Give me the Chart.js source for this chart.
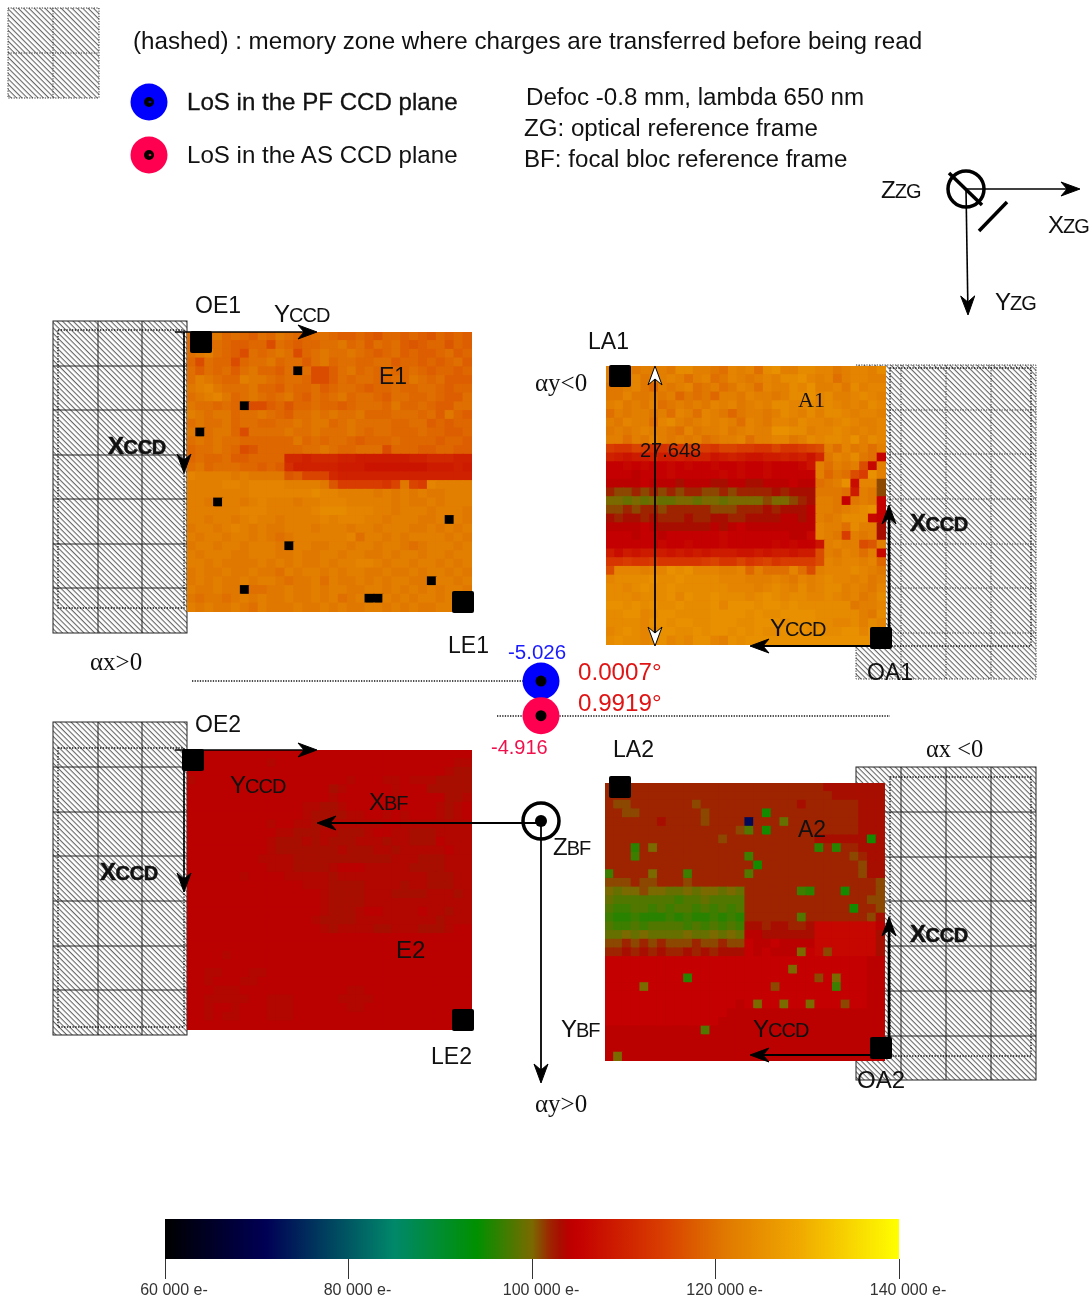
<!DOCTYPE html>
<html>
<head>
<meta charset="utf-8">
<title>CCD maps</title>
<script src="https://cdn.jsdelivr.net/npm/chart.js@4/dist/chart.umd.js"></script>
<style>
  html, body { margin: 0; padding: 0; background: #fff; overflow: hidden; }
  #page { position: relative; width: 1089px; height: 1300px; }
  #page svg, #page canvas { position: absolute; }
  .heat { filter: blur(0.45px); }
  text { font-family: "Liberation Sans", Arial, sans-serif; fill: #111; }
</style>
</head>
<body>
<div id="page">
  <svg id="back" width="1089" height="1300" style="left:0;top:0"></svg>
  <canvas id="e1" class="heat" width="285" height="280" style="left:187px;top:332px"></canvas>
  <canvas id="a1" class="heat" width="280" height="279" style="left:606px;top:366px"></canvas>
  <canvas id="e2" class="heat" width="285" height="280" style="left:187px;top:750px"></canvas>
  <canvas id="a2" class="heat" width="280" height="278" style="left:605px;top:783px"></canvas>
  <canvas id="bar" width="900" height="90" style="left:100px;top:1210px"></canvas>
  <svg id="front" width="1089" height="1300" style="left:0;top:0"></svg>
  <canvas id="los" width="82" height="105" style="left:500px;top:646px"></canvas>
</div>

<script>
// colour scale (electrons -> rgb) at the bottom
const stopValues = [60000, 71000, 85000, 94000, 100000, 102000, 103000, 104000, 105000, 114000, 121000, 129000, 140000];
const stopColors = [[0,0,0],[0,0,85],[0,136,106],[0,144,0],[122,106,0],[158,36,0],[168,14,0],[187,0,0],[196,0,0],[216,60,0],[224,120,0],[240,168,0],[255,255,0]];
const barTicks = [60000, 80000, 100000, 120000, 140000];

// line of sight points
const losNames = ['PF', 'AS'];
const losAngle = [0.0007, 0.9919];
const losSide = [0, 0];

// maps: 32 x 32 cells, one char per cell = thousands of e- in base 36 on top of 90 000
// '.' dead cell, '*' very low cell, 'D' 103 500
const special = { '.': 0, '*': 72000, 'D': 103500 };

const e1Rows = [
  "utuvtuts utvuttuu tsstsrtt stsrtsts",
  "tstutsst tqutsttu uvtusutu srsttrts",
  "uvwutsqu tuvuqtuv uuvutstu stsstust",
  "tquttqtu uvtuusuv tuuttuus ttststus",
  "usutusuv ttsu.uqq suvtutut tutsttst",
  "uwvuttwv vutuutqq sutuuttu tvutusss",
  "vwxvuuuv ttsuttus tuutsttu ttuutstt",
  "uvwxvtuv utuvtsut uvtuutsu uttutssu",
  "vuutut.q qstrttut tstuuutv ttutssuu",
  "wvuvvtuu vutsuuvu vuuvtttu uutusvts",
  "uvuuvtuu ttuuvuvv tuvuuuut tuuststt",
  "v.uvvtqu uuuvuuvu uuvutuut ttuttsst",
  "uvuvuutt ttttvtut uutstttu ttttstts",
  "tuuvutqr tttttuuv uttuuuqt ttssttss",
  "tuttusst tttllkll lkkjjjjj jkklllkk",
  "uvtuuutt stsmkkkk kjjjiiii iiijjjkj",
  "xwwwwvwv vvvrsppp lkkkkkkk kkkkkkkk",
  "wwwwxxwx xxxwwwwv rooooonp vpoxwwww",
  "wwwwwwwx xxxxxxyx xwwwwvwv wvwvvwww",
  "wwv.wwvw xwwwvwwx xxwwwwwv wvvwvwww",
  "wwwwwwxx xwwwwwxy yyxxxwwv wwwvwwwv",
  "wwvwwvwx wwvwwwwx wxxxwwvw wwvvw.wv",
  "vwwvwxwv wvvwwwvw wwvwwvww wvvwvwvw",
  "wvwwvwwv wvuvwwww wwxuwwvw vwwwwvwv",
  "vwwvwwvw wwv.wwvv wwvwwvww vuvwwwvw",
  "wvwwwvvw wwvvwvvw wvwwvvwv wwvwwvww",
  "wwvwvvvv wvwvwvvw vwwxxwvw wvwwvwvw",
  "vwvvwvvw vvuwvwwv wvwwvvwv vwvwwvwv",
  "vwvwvvwv wwvuvvwu wvvwvwvw wvv.wwvw",
  "wvvwvv.u uvvwvvwv wwvvwwvw vwvwvwwv",
  "vuvvuvwv wvvwvvwv wuvw..wv wvwwvwwv",
  "wvwvvwvu wvvvwvvw vwvvwwvw vwvvwwww"
];

const a1Rows = [
  "wwxvwwwv yywwvuxw xuyzwwyy xxvwxxwy",
  "wvwxvwwx wuwxuvxw vwxwyyzx wxuwxxww",
  "vvwxvtwv wxuvwuvx wuxwwyxz wwxvywxx",
  "vvxvvwvw tvuvtwwv xwwvwyyz xywwxyxw",
  "wxvwvxuv wvwvxwxv wxwyyxxy xyxwxwyx",
  "uwvwwvwu xwuxwvtv wwvwyxwy wyyxwxxw",
  "wvxwwuxy wvwxwxwu xwvxxwyx xwxyxwwx",
  "vwvwxwwv uxvwwxvw xwwzzyyw xxyxwxwx",
  "wwuwvxwv wvwuvwwx uwwxxvwy xyyxzwyx",
  "onnpommn nooonppo onnpnnop qwuxvwuw",
  "kjijjkjj kjkkijkj iijjkjki lvxwyvuf",
  "ffgfgffg fgffgffg ffgfffgi wuwvwqgw",
  "fffefffg fffffgfg ffgfffff wtvuqozw",
  "eeeefeee deeeddee ddeeefee uvwzhxxb",
  "cbbcbcbc bccbbcbc cccdcddd vvvujwvb",
  "aa9a9a99 aa9aa9aa aabaabcd wwvfvwvf",
  "bbcbccbc ccccbbbc ccdcddde wwvwxyzf",
  "dcddcdcc cdccddcc ddddeede wvwyyygf",
  "eeeefedd ddddedef eeeeeeee xwwuywwd",
  "fffeffef fffffgff fffffeeg xwvowvwd",
  "ffffffgf fgfffgff fffgfgff iwxwwqrw",
  "jhjijjji jijijjji ijijjijj qwvxwuwg",
  "nnonnonn nnnopnnp nopnoooo qxwxxwxt",
  "qxxxwxxz yzxxxwwx twuuuxuq wxxxyxwv",
  "xyyyyzyy zyyyyxxx wwwxwvxw xyxxwxvw",
  "yyxyzyyz yyyyyyxx xwxyxwyw xyywxwvx",
  "yyyxyyyz xzyyzyyy xyzyxyyx xyxwxvwy",
  "zzyzyzyy zyyyzxzz zyzzyzyy yyyyvwwx",
  "yyzzxyzz yyyyzzzz yzyyzzzz yyyyywvy",
  "yyyyxzzy zzyyzzzy yzzzyzzz yyxxywyx",
  "xyzyxyzz yyzyzzyz yzyyzzzy zyyzzxzz",
  "yzyyxyzx yxzzxwzy zzzzzzzz zzzzzzzz"
];

const e2Rows = [
  "eeeeeeee eeeeeeee eeeeeeee eeeeeeee",
  "eeeeeeee eDeeeeee eeeeeeee eeeeeeDD",
  "eeeeeeee eeeeeeee eeeeeeee eeeeeDdd",
  "Deeeeeee eeeeeeee eeDeeeDD eDDDdddd",
  "eeeeeeee eeeeeeee dDeeeeeD eeeddddd",
  "eeeeeeee eeeeeeee DeeeeeeD eeeeeddD",
  "eeeeeeee eeeeeDDd dDeeeeee eeeeDdDe",
  "eeeeeeee eeeeeDdd ddDDeeDe DeeeDdDe",
  "eeeeeeee eDeeDDdd DDDDDDee DDDDDDDD",
  "eeeeeeee eeDDdddD DdddDeeD DdddDDDD",
  "eeeeeeee eDdddDdD dddDDDdD DdddeDDD",
  "eeeeeeee eDdddddd dDdddDDd DDDDDeDD",
  "eeeeeeee DDDDdddd dddddddD DDdddDDD",
  "eeeeeeee eDDDdddd DeeeDDDD DddddDDD",
  "eeeeeeDe eeeDDDDD dDDDDDDD DDDdddDD",
  "eeeeeeee eeeeeDDD ddddDDDD dDDdddDD",
  "eeeeeeee eeeeeeeD ddddDDDd dddDDDdD",
  "eeeeeeee eeeeeeeD ddddDDDD DDDDDDDD",
  "eeeeeeee eeeeeeeD dddDeeDD DDeDDdDD",
  "eeeeeeee eeeeeeDd dddDDDDD DDDDdDDD",
  "eeeeeeee eeeeeeeD dDDDDddD DDdddDee",
  "eeeeeeee eeeeeeee eeeeeeee eeeeeeee",
  "eeeeeeee eeeeeeee eeeeeeee eeeeeeee",
  "eeeeDeee eeeeeeee eeeeeeee eeeeeeee",
  "eeeeeeee eeeeeeee eeeeeeee eeeeeeee",
  "eeDDeeeD Deeeeeee eeeeeeee eeeeeeee",
  "eeDeeeDD eeeeeeee eeeeeeee eeeeeeee",
  "eeeDDDee eeeeeeee eeDDeeee eeeeeeee",
  "eeDDDDDe eDDDeeee eDDDDeee eeeeeeee",
  "eeDeeDee eDDDeeee eeDDeeee eeeeeeee",
  "eeDeDDee eDDDeeee eeeeeeee eeeeeeee",
  "eeeeeeee eeeeeeee eeeeeeee eeeeeeee"
];

const a2Rows = [
  "cccccccc cccccccc cccccccc cddddddd",
  "cccccccc cccccccc cccccccc ccdddddd",
  "cbbccccc ccbccccc ccccccdc cccccddd",
  "ccbbcccc cccbcccc cc5ccccc cccccddd",
  "ccccccdc cccbcccc *ccc9ccc cccccddd",
  "cccccccc cccccccb 8c5ccccc cccccddd",
  "cccccccc cccccbcc cccccccc dddddd5d",
  "ccc6cacc cccccccc cccccccc 6c6ccddd",
  "ccc7cccc cccccccc 7ccccccc ccccbcdd",
  "cccccccc cccccccc c5cccccc cccccbdd",
  "7ccccacc c7cccccc 8ccccccc cccccbdd",
  "bbbcbbcc cbcccccc cccccccc cccccccb",
  "a9aabaa9 9a9aa9a9 cccccc76 ccc5cccb",
  "98888888 78898888 cccccccc ccccccbb",
  "87788787 88787878 cccccccc cccc5ccb",
  "76676667 67667676 cccccc8c ccccccbd",
  "87787888 87878787 ddcddccd ggggggge",
  "99a9a999 9a99a9a9 eedddddd gggggggd",
  "bbcbcbcb bbcbbcbb feefeeee gggggggd",
  "ccdcdcdc cdcdcddd fefeeeaf gbgggggd",
  "ffffffff ffffffff ffffffff ffffffee",
  "ffffffff ffffffff fffffaff ffffffee",
  "ffffffff f6ffffff ffffffff bfafffee",
  "ffffafff ffffffff fffbffff ff7fffee",
  "ffffffff ffffffff ffffffff ffffffee",
  "ffffffff fffffffe faffaffa fffbffee",
  "ffffffff ffffffee eeeeeeee eeeeeeee",
  "ffffffff fffffeee eeeeeeee eeeeeeee",
  "eeeeeeee eee8eeee eeeeeeee eeeeeeee",
  "eeeeeeee eeeeeeee eeeeeeee eeeeeeee",
  "eeeeeeee eeeeeeee eeeeeeee eeeeeeee",
  "eaeeeeee eeeeeeee eeeeeeee eeeeeeee"
];

Chart.defaults.animation = false;
Chart.defaults.responsive = false;
Chart.defaults.plugins.legend.display = false;
Chart.defaults.plugins.tooltip.enabled = false;

function colorFor(v) {
  if (v <= stopValues[0]) return 'rgb(0,0,0)';
  for (let i = 1; i < stopValues.length; i++) {
    if (v <= stopValues[i]) {
      const t = (v - stopValues[i - 1]) / (stopValues[i] - stopValues[i - 1]);
      const c = stopColors[i].map((s, k) => Math.round(stopColors[i - 1][k] + (s - stopColors[i - 1][k]) * t));
      return 'rgb(' + c.join(',') + ')';
    }
  }
  return 'rgb(255,255,0)';
}

function cellValue(ch) {
  if (ch in special) return special[ch];
  return 90000 + 1000 * parseInt(ch, 36);
}

function heatChart(id, rows) {
  const points = [];
  rows.forEach((row, r) => {
    row.replace(/ /g, '').split('').forEach((ch, c) => {
      points.push({ x: c + 0.5, y: r + 0.5, v: cellValue(ch) });
    });
  });
  new Chart(document.getElementById(id), {
    type: 'scatter',
    data: {
      datasets: [{
        data: points,
        pointStyle: 'rect',
        pointBorderWidth: 0,
        pointBackgroundColor: (ctx) => colorFor(ctx.raw ? ctx.raw.v : 0),
        // a rect point of radius r has side r*sqrt2, oversized so no seams show between cells
        pointRadius: (ctx) => Math.max(ctx.chart.width, ctx.chart.height) / 32 / Math.SQRT2 * 1.13
      }]
    },
    options: {
      layout: { padding: 0, autoPadding: false },
      scales: {
        x: { type: 'linear', min: 0, max: 32, display: false },
        y: { type: 'linear', min: 0, max: 32, reverse: true, display: false }
      }
    }
  });
}

heatChart('e1', e1Rows);
heatChart('a1', a1Rows);
heatChart('e2', e2Rows);
heatChart('a2', a2Rows);

// colour bar
new Chart(document.getElementById('bar'), {
  type: 'bar',
  data: {
    labels: ['scale'],
    datasets: [{
      data: [[stopValues[0], stopValues[stopValues.length - 1]]],
      barPercentage: 1,
      categoryPercentage: 1,
      backgroundColor: (ctx) => {
        const chart = ctx.chart;
        if (!chart.chartArea) return '#000';
        const x = chart.scales.x;
        const x0 = x.getPixelForValue(stopValues[0]);
        const x1 = x.getPixelForValue(stopValues[stopValues.length - 1]);
        const g = chart.ctx.createLinearGradient(x0, 0, x1, 0);
        stopValues.forEach((v) => g.addColorStop((v - stopValues[0]) / (x.max - x.min), colorFor(v)));
        return g;
      }
    }]
  },
  options: {
    indexAxis: 'y',
    layout: { padding: { left: 65, right: 101, top: 9, bottom: 0 } },
    scales: {
      x: {
        type: 'linear',
        min: 60000,
        max: 140000,
        afterFit: (s) => { s.height = 41; },
        afterBuildTicks: (s) => { s.ticks = barTicks.map((v) => ({ value: v })); },
        border: { display: false },
        grid: { drawOnChartArea: false, tickLength: 20, tickColor: '#333', lineWidth: 1 },
        ticks: {
          autoSkip: false,
          maxRotation: 0,
          padding: 2,
          labelOffset: 9,
          color: '#333',
          font: { family: '"Liberation Sans"', size: 16 },
          callback: (v) => (v / 1000) + ' 000 e-'
        }
      },
      y: { type: 'category', display: false }
    }
  }
});

// the two lines of sight, vertical scale in degrees
new Chart(document.getElementById('los'), {
  type: 'scatter',
  data: {
    datasets: [
      {
        data: losAngle.map((a, i) => ({ x: losSide[i], y: a })),
        pointRadius: 5.5,
        pointBorderWidth: 0,
        pointBackgroundColor: '#000'
      },
      {
        label: losNames[1],
        data: [{ x: losSide[1], y: losAngle[1] }],
        pointRadius: 18.5,
        pointBorderWidth: 0,
        pointBackgroundColor: '#ff0050'
      },
      {
        label: losNames[0],
        data: [{ x: losSide[0], y: losAngle[0] }],
        pointRadius: 18.5,
        pointBorderWidth: 0,
        pointBackgroundColor: '#0000ff'
      }
    ]
  },
  options: {
    layout: { padding: 0, autoPadding: false },
    scales: {
      x: { type: 'linear', min: -1, max: 1, display: false },
      y: { type: 'linear', min: -1, max: 2, reverse: true, display: false }
    }
  }
});

// ---- drawing around the maps: hatched zones, arrows, labels ----

function hatchZone(x, y, w, h, vx, hy, inner, dotted) {
  const dash = dotted ? ' stroke-dasharray="1.2 1.4"' : '';
  const col = dotted ? '#333' : '#222';
  let s = `<rect x="${x}" y="${y}" width="${w}" height="${h}" fill="url(#hatch)" stroke="${col}" stroke-width="1"${dash}/>`;
  vx.forEach((v) => { s += `<line x1="${v}" y1="${y}" x2="${v}" y2="${y + h}" stroke="${col}" stroke-width="1"${dash}/>`; });
  hy.forEach((v) => { s += `<line x1="${x}" y1="${v}" x2="${x + w}" y2="${v}" stroke="${col}" stroke-width="1"${dash}/>`; });
  if (inner) {
    s += `<rect x="${inner[0]}" y="${inner[1]}" width="${inner[2]}" height="${inner[3]}" fill="none" stroke="#111" stroke-width="1.3" stroke-dasharray="1.3 1.5"/>`;
  }
  return s;
}

let backSvg = `<defs><pattern id="hatch" width="3.8" height="3.8" patternUnits="userSpaceOnUse" patternTransform="rotate(45)">
  <rect width="3.8" height="3.8" fill="#fff"/><rect x="0" y="0" width="3.8" height="1.1" fill="#666"/></pattern></defs>`;
backSvg += hatchZone(8, 8, 91, 90, [53], [53], null, true);
backSvg += hatchZone(53, 321, 134, 312, [98, 142], [366, 410, 455, 499, 544, 588], [58, 330, 126, 278], false);
backSvg += hatchZone(53, 722, 134, 313, [98, 142], [767, 812, 856, 901, 946, 990], [58, 748, 126, 279], false);
backSvg += hatchZone(856, 365, 180, 314, [901, 946, 991], [410, 454, 499, 544, 588, 633], [890, 368, 141, 278], true);
backSvg += hatchZone(856, 767, 180, 313, [901, 946, 991], [812, 857, 901, 946, 991, 1036], [890, 777, 141, 279], false);
document.getElementById('back').innerHTML = backSvg;

function arrow(x1, y1, x2, y2, width, fill, stroke) {
  const len = Math.hypot(x2 - x1, y2 - y1);
  const ux = (x2 - x1) / len, uy = (y2 - y1) / len;
  const px = -uy, py = ux;
  const hl = 19, hw = 7, notch = 13;
  const bx = x2 - ux * hl, by = y2 - uy * hl;
  const nx = x2 - ux * notch, ny = y2 - uy * notch;
  const pts = [[x2, y2], [bx + px * hw, by + py * hw], [nx, ny], [bx - px * hw, by - py * hw]]
    .map((p) => p[0].toFixed(1) + ',' + p[1].toFixed(1)).join(' ');
  return `<line x1="${x1}" y1="${y1}" x2="${nx.toFixed(1)}" y2="${ny.toFixed(1)}" stroke="#000" stroke-width="${width}"/>` +
    `<polygon points="${pts}" fill="${fill || '#000'}" stroke="${stroke || '#000'}" stroke-width="1"/>`;
}

function txt(s, x, y, size, extra) {
  return `<text x="${x}" y="${y}" font-size="${size}" ${extra || ''}>${s}</text>`;
}

// big letter + small capitals, like Xccd
function caps(a, b, x, y, extra) {
  return `<text x="${x}" y="${y}" font-size="24" ${extra || ''}>${a}<tspan font-size="20">${b}</tspan></text>`;
}

function square(x, y) {
  return `<rect x="${x}" y="${y}" width="22" height="22" rx="2" fill="#000"/>`;
}

const serif = 'style="font-family:\'Liberation Serif\'"';
const boldCaps = 'font-weight="bold" stroke="#111" stroke-width="0.5" letter-spacing="-0.4"';
const tight = 'letter-spacing="-1"';

let f = '';
// legend
f += txt('(hashed) : memory zone where charges are transferred before being read', 133, 49, 24.2);
f += `<circle cx="149" cy="102" r="18.5" fill="#0000ff"/><circle cx="149" cy="102" r="5" fill="#000"/><circle cx="150" cy="102" r="1.3" fill="#0000ff"/>`;
f += `<circle cx="149" cy="155" r="18.5" fill="#ff0050"/><circle cx="149" cy="155" r="5" fill="#000"/><circle cx="150" cy="155" r="1.3" fill="#ff0050"/>`;
f += txt('LoS in the PF CCD plane', 187, 110, 24.1, 'stroke="#111" stroke-width="0.3"');
f += txt('LoS in the AS CCD plane', 187, 163, 24.1);
f += txt('Defoc -0.8 mm, lambda 650 nm', 526, 105, 24.15);
f += txt('ZG: optical reference frame', 524, 136, 24.15);
f += txt('BF: focal bloc reference frame', 524, 167, 24.15);

// ZG frame
f += `<circle cx="966" cy="189" r="18" fill="none" stroke="#000" stroke-width="3.5"/>`;
f += `<line x1="949" y1="173" x2="982" y2="205" stroke="#000" stroke-width="3.5"/>`;
f += `<line x1="1007" y1="202" x2="979" y2="231" stroke="#000" stroke-width="3.5"/>`;
f += arrow(966, 189, 1080, 189, 1.6);
f += arrow(966, 189, 968, 315, 1.6);
f += caps('Z', 'ZG', 881, 198, tight);
f += caps('X', 'ZG', 1048, 233, tight);
f += caps('Y', 'ZG', 995, 310, tight);

// E1
f += arrow(175, 332, 317, 332, 1.6);
f += arrow(184, 332, 184, 473, 1.6);
f += square(190, 331) + square(452, 591);
f += txt('OE1', 195, 313, 23);
f += caps('Y', 'CCD', 274, 322, tight);
f += txt('E1', 379, 384, 23);
f += caps('X', 'CCD', 108, 454, boldCaps);
f += txt('LE1', 448, 653, 23);
f += txt('αx&gt;0', 90, 670, 25, serif);

// A1
f += arrow(655, 500, 655, 366, 1.8, '#fff', '#000');
f += arrow(655, 500, 655, 646, 1.8, '#fff', '#000');
f += arrow(881, 646, 750, 646, 2);
f += arrow(889, 645, 889, 505, 2.6);
f += square(609, 365) + square(870, 627);
f += txt('LA1', 588, 349, 23);
f += txt('αy&lt;0', 535, 391, 25, serif);
f += txt('A1', 798, 407, 22, serif);
f += txt('27.648', 640, 457, 20);
f += caps('X', 'CCD', 910, 531, boldCaps);
f += caps('Y', 'CCD', 770, 636, tight);
f += txt('OA1', 867, 680, 23);

// los labels and dotted guides
f += `<line x1="192" y1="681" x2="523" y2="681" stroke="#111" stroke-width="1.3" stroke-dasharray="1.3 1.3"/>`;
f += `<line x1="497" y1="716" x2="890" y2="716" stroke="#111" stroke-width="1.3" stroke-dasharray="1.3 1.3"/>`;
f += txt('-5.026', 508, 659, 20.5, 'style="fill:#1a1aff"');
f += txt('0.0007°', 578, 680, 24.2, 'style="fill:#e01414"');
f += txt('0.9919°', 578, 711, 24.2, 'style="fill:#e01414"');
f += txt('-4.916', 491, 754, 20, 'style="fill:#f0104c"');

// E2
f += arrow(175, 750, 317, 750, 1.6);
f += arrow(184, 750, 184, 892, 1.6);
f += square(182, 749) + square(452, 1009);
f += txt('OE2', 195, 732, 23);
f += caps('Y', 'CCD', 230, 793, tight);
f += caps('X', 'BF', 369, 810, tight);
f += caps('X', 'CCD', 100, 880, boldCaps);
f += txt('E2', 396, 958, 24);
f += txt('LE2', 431, 1064, 23);

// BF frame
f += arrow(541, 823, 317, 823, 1.8);
f += arrow(541, 823, 541, 1083, 1.8);
f += `<circle cx="541" cy="821" r="18" fill="none" stroke="#000" stroke-width="3.5"/><circle cx="541" cy="821" r="6" fill="#000"/>`;
f += caps('Z', 'BF', 553, 855, tight);
f += caps('Y', 'BF', 561, 1037, tight);
f += txt('αy&gt;0', 535, 1112, 25, serif);

// A2
f += arrow(881, 1055, 750, 1055, 2);
f += arrow(889, 1055, 889, 917, 2.6);
f += square(609, 776) + square(870, 1037);
f += txt('LA2', 613, 757, 23);
f += txt('αx &lt;0', 926, 757, 24.5, serif);
f += txt('A2', 798, 837, 23);
f += caps('X', 'CCD', 910, 942, boldCaps);
f += caps('Y', 'CCD', 753, 1037, tight);
f += txt('OA2', 857, 1088, 24);

document.getElementById('front').innerHTML = f;
</script>
</body>
</html>
